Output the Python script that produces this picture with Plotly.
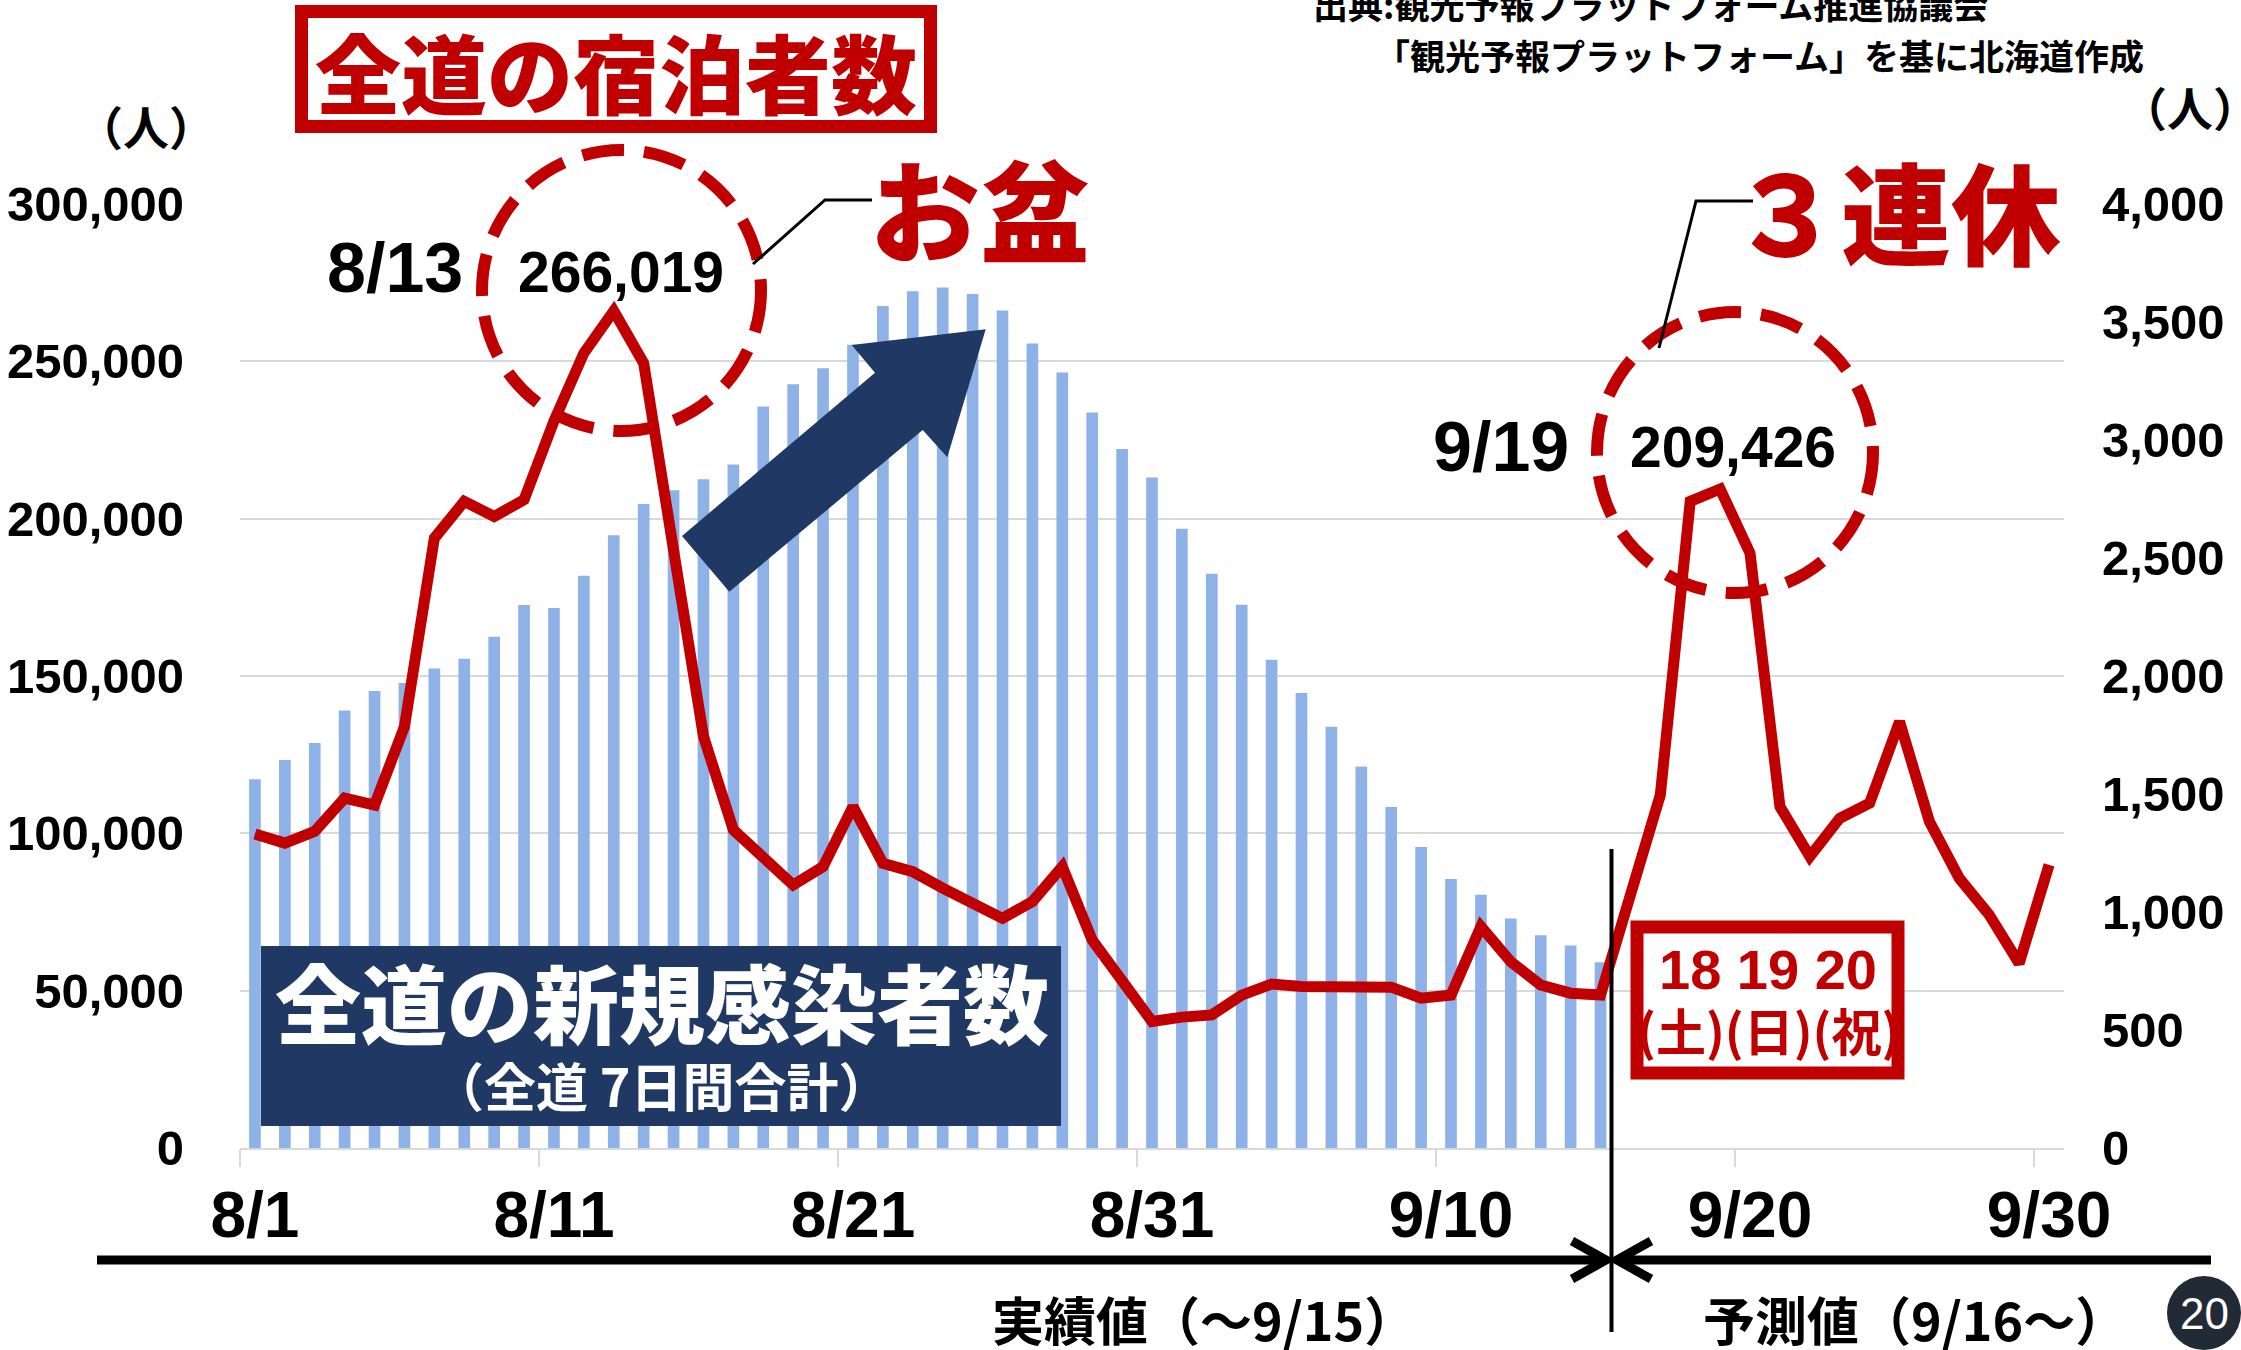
import plotly.graph_objects as go
import pandas as pd

# ---------------- data ----------------
dates = [f"{d.month}/{d.day}" for d in pd.date_range("2021-08-01", "2021-09-30")]
tick_labels = ["8/1", "8/11", "8/21", "8/31", "9/10", "9/20", "9/30"]

# 全道の新規感染者数（7日間合計） 8/1 - 9/15  (right axis)
infections_7day = [1563, 1644, 1716, 1854, 1936, 1970, 2032, 2073, 2166, 2301,
                   2288, 2425, 2596, 2729, 2787, 2834, 2896, 3142, 3236, 3304,
                   3404, 3568, 3630, 3646, 3619, 3549, 3409, 3286, 3116, 2962,
                   2841, 2624, 2433, 2302, 2069, 1928, 1785, 1617, 1445, 1275,
                   1140, 1073, 972, 902, 858, 787]

# 全道の宿泊者数 8/1 - 9/30 (left axis)
guests = [99800, 96900, 100600, 111200, 109000, 133900, 193800, 205500, 200700, 206000,
          231000, 252600, 266019, 249400, 190000, 130800, 101100, 92400, 83600, 89400,
          108500, 90500, 87800, 82600, 77800, 73000, 78300, 89400, 66100, 52900,
          40200, 41600, 42300, 48600, 52100, 51300, 51300, 51500, 51100, 47600,
          48600, 70400, 59200, 51800, 49200, 48600, 81000, 112200, 205500, 209426,
          189000, 108500, 92600, 104800, 109600, 135500, 103700, 85700, 74100, 58700,
          90000]

# ---------------- geometry helpers ----------------
W, H = 2241, 1350
L, R, T, B = 240, 2064, 204, 1148


def px(x):
    return (x - L) / (R - L)


def py(y):
    return (B - y) / (B - T)


RED = "#C00000"
NAVY = "#203864"
BAR = "#8EB2E8"
GRID = "#D9D9D9"
NUM = "Liberation Sans, Arial, sans-serif"
JP = "Noto Sans CJK JP, Noto Sans CJK SC, sans-serif"

fig = go.Figure()
fig.add_trace(go.Bar(
    x=list(range(len(infections_7day))), y=infections_7day, yaxis="y",
    width=0.39, marker=dict(color=BAR, line=dict(width=0)), hoverinfo="skip",
    name="全道の新規感染者数"))
fig.add_trace(go.Scatter(
    x=list(range(len(guests))), y=guests, yaxis="y2", mode="lines",
    line=dict(color=RED, width=11), hoverinfo="skip", name="全道の宿泊者数"))

tick_pos = [dates.index(t) for t in tick_labels]

fig.update_layout(
    width=W, height=H, autosize=False,
    margin=dict(l=L, r=W - R, t=T, b=H - B, pad=0),
    paper_bgcolor="white", plot_bgcolor="white", showlegend=False,
    xaxis=dict(
        range=[-0.5, len(dates) - 0.5], tickmode="array", tickvals=tick_pos,
        ticktext=tick_labels, ticks="", showgrid=False, zeroline=False,
        showline=True, linecolor=GRID, linewidth=2, automargin=False,
        tickfont=dict(family=NUM, size=64, color="black", weight="bold"),
        ticklabelstandoff=10,
        minor=dict(tickmode="array", tickvals=[p - 0.5 for p in tick_pos],
                   ticks="outside", ticklen=17, tickcolor=GRID, tickwidth=2),
    ),
    yaxis=dict(
        range=[0, 4000], dtick=500, tickformat=",d", side="right",
        showgrid=False, zeroline=False, showline=False, ticks="", automargin=False,
        tickfont=dict(family=NUM, size=49, color="black", weight="bold"),
        ticklabelstandoff=37,
    ),
    yaxis2=dict(
        range=[0, 300000], dtick=50000, tickformat=",d", side="left",
        overlaying="y", showgrid=True, gridcolor=GRID, gridwidth=2,
        zeroline=False, showline=False, ticks="", automargin=False,
        tickfont=dict(family=NUM, size=49, color="black", weight="bold"),
        ticklabelstandoff=55,
    ),
)

ann = []


def text(t, x, y, size, color="black", family=JP, weight="bold", xanchor="center"):
    ann.append(dict(text=t, x=px(x), y=py(y), xref="paper", yref="paper",
                    xanchor=xanchor, yanchor="middle", showarrow=False,
                    font=dict(family=family, size=size, color=color, weight=weight)))


text("全道の宿泊者数", 616, 70, 86, RED, weight=900)
text("（人）", 146, 125, 46)
text("（人）", 2190, 106, 46)
text("出典:観光予報プラットフォーム推進協議会", 1650, 4, 35)
text("「観光予報プラットフォーム」を基に北海道作成", 1759, 55, 35)
text("お盆", 980, 206, 110, RED, weight=900)
text("３連休", 1896, 209, 110, RED, weight=900)
text("8/13", 395, 268, 70, family=NUM, weight="bold")
text("266,019", 621, 272, 57, family=NUM, weight="bold")
text("9/19", 1501, 447, 70, family=NUM, weight="bold")
text("209,426", 1733, 447, 57, family=NUM, weight="bold")
text("全道の新規感染者数", 662, 1000, 86, "white", weight=900)
text("（全道 7日間合計）", 661, 1084, 52, "white")
text("18 19 20", 1768, 969, 56, RED, family=NUM, weight="bold")
text("(土)(日)(祝)", 1768, 1029, 50, RED)
text("実績値（～9/15）", 1204, 1318, 52)
text("予測値（9/16～）", 1915, 1318, 52)
text("20", 2204, 1313, 44, "white", family=NUM, weight="normal")

shapes = []


def path(points, **kw):
    d = "M " + " L ".join(f"{px(x):.5f},{py(y):.5f}" for x, y in points)
    if kw.pop("closed", False):
        d += " Z"
    shapes.append(dict(type="path", path=d, xref="paper", yref="paper", **kw))


def rect(x0, y0, x1, y1, **kw):
    shapes.append(dict(type="rect", xref="paper", yref="paper",
                       x0=px(x0), x1=px(x1), y0=py(y1), y1=py(y0), **kw))


def circ(x0, y0, x1, y1, **kw):
    shapes.append(dict(type="circle", xref="paper", yref="paper",
                       x0=px(x0), x1=px(x1), y0=py(y1), y1=py(y0), **kw))


# title frame
rect(301.5, 11.5, 930.5, 126.5, line=dict(color=RED, width=13), fillcolor="rgba(0,0,0,0)")
# dashed circles
circ(482, 150, 761, 431, line=dict(color=RED, width=12, dash="42px,20px"))
circ(1597, 312, 1873, 593, line=dict(color=RED, width=12, dash="42px,20px"))
# leader lines
path([(753, 264), (825, 200), (872, 200)], line=dict(color="black", width=3))
path([(1659, 348), (1696, 201), (1753, 201)], line=dict(color="black", width=3))
# big navy arrow
path([(682, 536), (875, 372.7), (851.7, 345), (985.7, 329.3), (947.3, 457.3),
      (922.7, 430), (729.3, 591.7)], closed=True, fillcolor=NAVY, line=dict(width=0))
# navy label box
rect(261, 946, 1061, 1126, fillcolor=NAVY, line=dict(width=0), layer="above")
# holiday box
rect(1637, 927, 1898, 1073, line=dict(color=RED, width=13), fillcolor="white")
# divider line
path([(1611.5, 849), (1611.5, 1332)], line=dict(color="black", width=4))
# bottom arrows
path([(97, 1260), (1604, 1260)], line=dict(color="black", width=9))
path([(1572, 1241), (1606, 1260), (1572, 1279)], line=dict(color="black", width=9))
path([(1618, 1260), (2211, 1260)], line=dict(color="black", width=9))
path([(1651, 1241), (1617, 1260), (1651, 1279)], line=dict(color="black", width=9))
# page number circle
circ(2167, 1276, 2241, 1350, fillcolor="#222A35", line=dict(width=0))

fig.update_layout(shapes=shapes)
fig.update_layout(annotations=ann)

fig.write_html(
    "out.html",
    config={"displayModeBar": False},
    post_script="document.body.style.margin='0';document.body.style.padding='0';"
                "document.body.style.overflow='hidden';",
)
